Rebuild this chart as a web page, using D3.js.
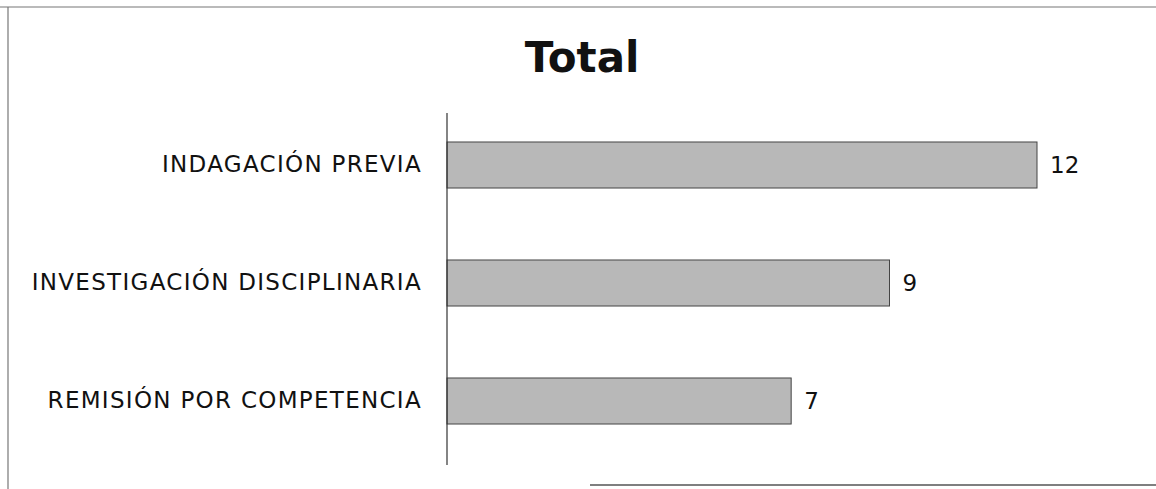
<!DOCTYPE html>
<html>
<head>
<meta charset="utf-8">
<script src="https://cdn.jsdelivr.net/npm/d3@7"></script>
<style>
  body { margin: 0; background: #fff; }
</style>
</head>
<body>
<script>
// chart data
var categories = ["INDAGACIÓN PREVIA", "INVESTIGACIÓN DISCIPLINARIA", "REMISIÓN POR COMPETENCIA"];
var values = [12, 9, 7];
var title = "Total";

var W = 1156, H = 489;
var margin = {left: 447, right: 119, top: 106, bottom: 29};

var svg = d3.select("body")
    .append("svg")
    .attr("width", W)
    .attr("height", H);

// scanned page frame
svg.append("line").attr("x1", 0).attr("x2", W).attr("y1", 7).attr("y2", 7)
    .attr("stroke", "#777").attr("stroke-width", 1.2);
svg.append("line").attr("x1", 8).attr("x2", 8).attr("y1", 7).attr("y2", H)
    .attr("stroke", "#777").attr("stroke-width", 1.2);
svg.append("line").attr("x1", 590).attr("x2", W).attr("y1", 485).attr("y2", 485)
    .attr("stroke", "#555").attr("stroke-width", 1.5);

var x = d3.scaleLinear()
    .domain([0, 12])
    .range([margin.left, 1037]);

var y = d3.scaleBand()
    .domain(categories)
    .range([margin.top, H - margin.bottom])
    .paddingInner(0.61)
    .paddingOuter(0.305);

svg.append("text")
    .attr("x", 582)
    .attr("y", 72)
    .attr("text-anchor", "middle")
    .attr("font-family", "DejaVu Sans")
    .attr("font-weight", "bold")
    .attr("font-size", 42)
    .attr("fill", "#111")
    .text(title);

// bars
svg.selectAll("rect.bar")
    .data(values)
    .enter().append("rect")
    .attr("class", "bar")
    .attr("x", x(0))
    .attr("y", function(d, i) { return y(categories[i]); })
    .attr("width", function(d) { return x(d) - x(0); })
    .attr("height", y.bandwidth())
    .attr("fill", "#b8b8b8")
    .attr("stroke", "#444")
    .attr("stroke-width", 1);

// value labels
svg.selectAll("text.val")
    .data(values)
    .enter().append("text")
    .attr("class", "val")
    .attr("x", function(d) { return x(d) + 13; })
    .attr("y", function(d, i) { return y(categories[i]) + y.bandwidth() / 2; })
    .attr("dy", "0.35em")
    .attr("font-family", "DejaVu Sans")
    .attr("font-size", 23)
    .attr("fill", "#111")
    .text(function(d) { return d; });

// category axis
var yAxis = svg.append("g")
    .attr("transform", "translate(" + margin.left + ",0)")
    .call(d3.axisLeft(y).tickSize(0).tickPadding(25));

yAxis.select(".domain")
    .attr("d", "M0," + 113 + "V" + 465)
    .attr("stroke", "#333")
    .attr("stroke-width", 1.2);

yAxis.selectAll("text")
    .attr("font-family", "DejaVu Sans")
    .attr("font-size", 23)
    .attr("letter-spacing", "1.3px")
    .attr("fill", "#111");
</script>
</body>
</html>
